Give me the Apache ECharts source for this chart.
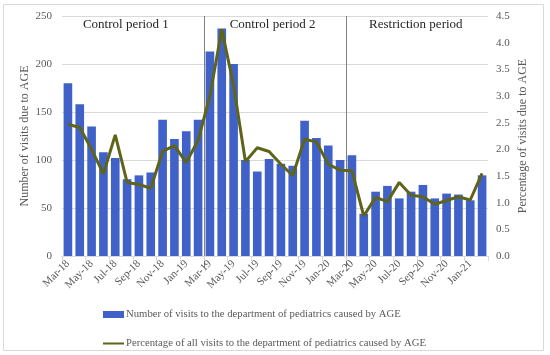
<!DOCTYPE html>
<html><head><meta charset="utf-8">
<script src="https://cdn.jsdelivr.net/npm/echarts@6/dist/echarts.min.js"></script>
<style>html,body{margin:0;padding:0;background:#fff}#c{width:550px;height:355px}</style>
</head><body><div id="c"></div>
<script>
const categories = ['Mar-18','Apr-18','May-18','Jun-18','Jul-18','Aug-18','Sep-18','Oct-18','Nov-18','Dec-18','Jan-19','Feb-19',
 'Mar-19','Apr-19','May-19','Jun-19','Jul-19','Aug-19','Sep-19','Oct-19','Nov-19','Dec-19','Jan-20','Feb-20',
 'Mar-20','Apr-20','May-20','Jun-20','Jul-20','Aug-20','Sep-20','Oct-20','Nov-20','Dec-20','Jan-21','Feb-21'];
const visits = [180,158,135,108,102,80,84,87,142,122,130,142,213,237,200,100,88,101,96,94,141,123,115,100,105,44,67,73,60,67,74,60,65,64,58,84];
const percent = [2.47,2.41,2.0,1.54,2.27,1.38,1.34,1.27,1.96,2.07,1.75,2.17,3.0,4.25,3.2,1.77,2.03,1.96,1.72,1.51,2.19,2.14,1.72,1.61,1.60,0.75,1.1,1.02,1.38,1.14,1.11,0.97,1.04,1.11,1.05,1.55];
const periodNames = ['Control period 1','Control period 2','Restriction period'];
const periodBounds = [12, 24];   // category index where a new period starts
const periodCenters = [5.4, 17.8, 29.9];
const seriesNames = ['Number of visits to the department of pediatrics caused by AGE',
 'Percentage of all visits to the department of pediatrics caused by AGE'];

const FONT = 'Liberation Serif';
const TXT = '#595959';
const chart = echarts.init(document.getElementById('c'), null, {renderer:'canvas'});
const option = {
  animation:false,
  textStyle:{fontFamily:FONT},
  grid:{left:62,right:62,top:16,bottom:99},
  legend:{
    orient:'vertical', left:102, top:309, padding:0, itemGap:18, itemWidth:21, itemHeight:7,
    textStyle:{fontFamily:FONT,fontSize:10.7,color:TXT,padding:[0,0,0,-3]},
    data:[{name:seriesNames[0],icon:'rect'},{name:seriesNames[1],itemStyle:{opacity:0}}]
  },
  xAxis:[{
    type:'category', data:categories,
    axisLine:{lineStyle:{color:'#d9d9d9'}},
    axisTick:{show:true,interval:1,length:5,lineStyle:{color:'#d9d9d9'}},
    axisLabel:{interval:1,rotate:45,fontFamily:FONT,fontSize:11,color:TXT,margin:6}
  },{
    type:'value', min:0, max:36, show:false
  }],
  yAxis:[{
    type:'value', min:0, max:250, interval:50,
    name:'Number of visits due to AGE', nameLocation:'middle', nameGap:31, nameMoveOverlap:false,
    nameTextStyle:{fontFamily:FONT,fontSize:12,color:TXT},
    axisLine:{show:false}, axisTick:{show:false},
    axisLabel:{fontFamily:FONT,fontSize:11,color:TXT,margin:10},
    splitLine:{lineStyle:{color:'#d9d9d9'}}
  },{
    type:'value', min:0, max:4.5, interval:0.5,
    name:'Percentage of visits due to AGE', nameLocation:'middle', nameGap:29, nameMoveOverlap:false,
    nameTextStyle:{fontFamily:FONT,fontSize:12,color:TXT},
    axisLine:{show:false}, axisTick:{show:false},
    axisLabel:{fontFamily:FONT,fontSize:11,color:TXT,margin:8,formatter:v=>v.toFixed(1)},
    splitLine:{show:false}
  }],
  series:[{
    name:seriesNames[0], type:'bar', data:visits, barCategoryGap:'27%',
    itemStyle:{color:'#4062c8'}
  },{
    name:seriesNames[1], type:'line', data:percent, yAxisIndex:1,
    symbol:'none', lineStyle:{color:'#5f6419',width:3}, itemStyle:{color:'#5f6419'}
  }]
};
chart.setOption(option);

const g = [];
g.push({type:'rect',shape:{x:3.5,y:4.5,width:540,height:346},style:{fill:'none',stroke:'#d9d9d9',lineWidth:1},silent:true});
const yTop = chart.convertToPixel({yAxisIndex:0}, 250);
const yBot = chart.convertToPixel({yAxisIndex:0}, 0);
periodBounds.forEach(b=>{
  const x = Math.round(chart.convertToPixel({xAxisIndex:1}, b)) + 0.5;
  g.push({type:'line',shape:{x1:x,y1:yTop,x2:x,y2:yBot+11},style:{stroke:'#7f7f7f',lineWidth:1},silent:true});
});
periodNames.forEach((n,i)=>{
  const x = chart.convertToPixel({xAxisIndex:1}, periodCenters[i]);
  g.push({type:'text',x:x,y:yTop+9,style:{text:n,fontFamily:FONT,fontSize:13,fill:'#262626',align:'center',verticalAlign:'middle'},silent:true});
});
chart.setOption({graphic:g});
</script></body></html>
